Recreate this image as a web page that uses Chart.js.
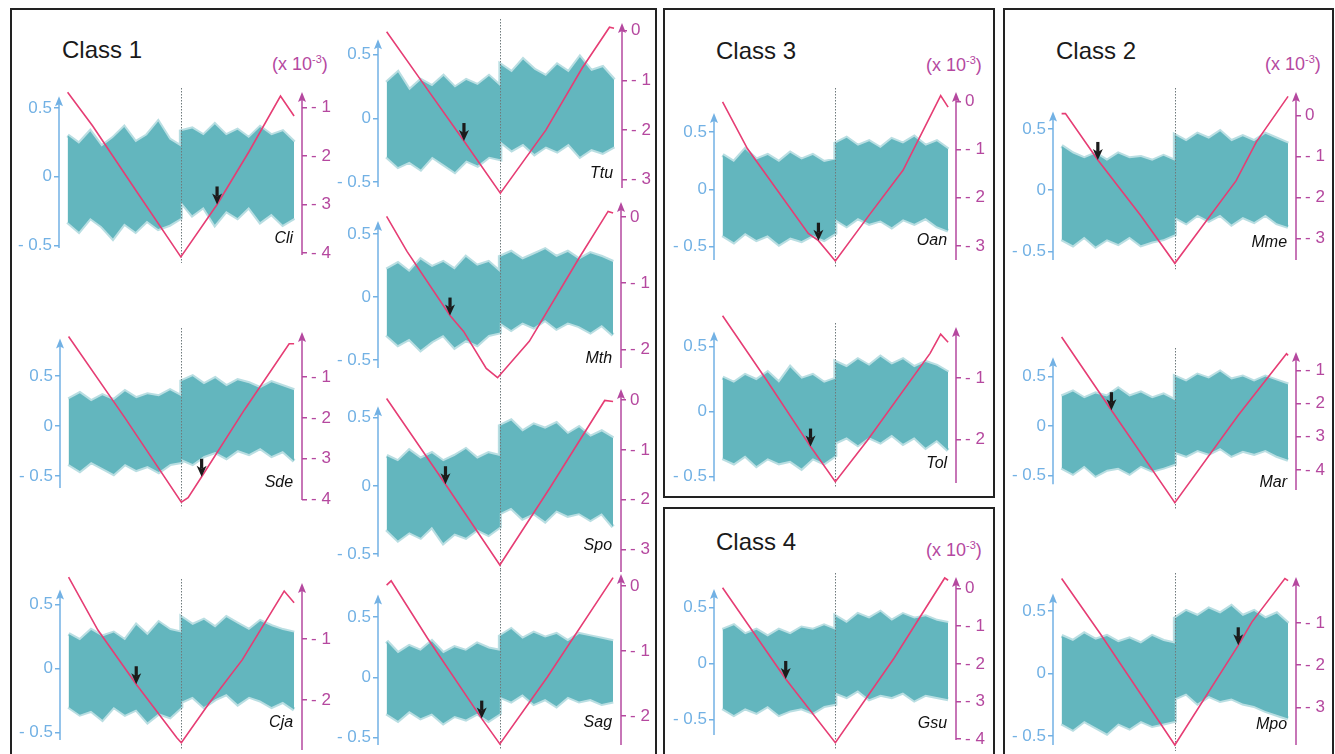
<!DOCTYPE html>
<html>
<head>
<meta charset="utf-8">
<script src="https://cdn.jsdelivr.net/npm/chart.js@4.4.1/dist/chart.umd.min.js"></script>
<style>
  body { margin: 0; background: #fff; width: 1335px; height: 754px; position: relative; overflow: hidden; font-family: "Liberation Sans", Arial, sans-serif; }
  .box { position: absolute; border: 2.5px solid #222; box-sizing: border-box; }
  .title { position: absolute; font-size: 24px; line-height: 24px; color: #1a1a1a; white-space: nowrap; }
  .unit { position: absolute; font-size: 18px; line-height: 18px; color: #b5489f; white-space: nowrap; }
  .unit sup { font-size: 11px; vertical-align: 7px; line-height: 0; }
  canvas { position: absolute; }
</style>
</head>
<body>
<div class="box" style="left:10px;top:8px;width:647px;height:760px"></div>
<div class="box" style="left:663px;top:8px;width:332px;height:490px"></div>
<div class="box" style="left:663px;top:507px;width:332px;height:260px"></div>
<div class="box" style="left:1003px;top:8px;width:331px;height:760px"></div>

<div class="title" style="left:62px;top:38px">Class 1</div>
<div class="title" style="left:716px;top:39px">Class 3</div>
<div class="title" style="left:716px;top:530px">Class 4</div>
<div class="title" style="left:1056px;top:39px">Class 2</div>

<div class="unit" style="left:272px;top:55px">(x 10<sup>-3</sup>)</div>
<div class="unit" style="left:926px;top:56px">(x 10<sup>-3</sup>)</div>
<div class="unit" style="left:926px;top:541px">(x 10<sup>-3</sup>)</div>
<div class="unit" style="left:1265px;top:55px">(x 10<sup>-3</sup>)</div>

<script>
// shared grid of the teal band (index along the sequence, jump at 50)
const bandX = [0, 5, 10, 15, 20, 25, 30, 35, 40, 45, 50, 50, 55, 60, 65, 70, 75, 80, 85, 90, 95, 100];
const leftTicks = [0.5, 0, -0.5];

// Class 1
const cliHi = [0.3, 0.24, 0.33, 0.22, 0.28, 0.36, 0.25, 0.3, 0.4, 0.27, 0.22, 0.33, 0.35, 0.3, 0.38, 0.3, 0.34, 0.28, 0.36, 0.3, 0.33, 0.25];
const cliLo = [-0.33, -0.4, -0.3, -0.36, -0.45, -0.34, -0.4, -0.32, -0.38, -0.35, -0.3, -0.18, -0.28, -0.22, -0.35, -0.25, -0.3, -0.22, -0.33, -0.27, -0.35, -0.3];
const cliPink = [[0, -0.69], [11, -1.38], [31, -2.77], [50, -4.08], [66, -3.0], [80, -1.92], [94, -0.77], [100, -1.18]];
const cliArrow = [66, -3.0];
const cliRight = [-1, -2, -3, -4];

const ttuHi = [0.28, 0.36, 0.22, 0.3, 0.25, 0.33, 0.24, 0.3, 0.26, 0.33, 0.25, 0.42, 0.36, 0.46, 0.38, 0.33, 0.42, 0.36, 0.48, 0.37, 0.4, 0.3];
const ttuLo = [-0.3, -0.38, -0.34, -0.4, -0.3, -0.36, -0.42, -0.33, -0.37, -0.3, -0.32, -0.18, -0.25, -0.2, -0.28, -0.22, -0.26, -0.2, -0.3, -0.24, -0.27, -0.22];
const ttuPink = [[0, -0.02], [17, -1.12], [34, -2.22], [50, -3.27], [70, -2.0], [86, -0.75], [98, 0.07], [100, 0.05]];
const ttuArrow = [34, -2.22];
const ttuRight = [0, -1, -2, -3];

const sdeHi = [0.27, 0.33, 0.25, 0.31, 0.26, 0.35, 0.28, 0.32, 0.3, 0.36, 0.3, 0.45, 0.5, 0.42, 0.48, 0.4, 0.46, 0.43, 0.38, 0.44, 0.4, 0.36];
const sdeLo = [-0.38, -0.45, -0.36, -0.42, -0.48, -0.38, -0.44, -0.4, -0.46, -0.38, -0.36, -0.33, -0.38, -0.3, -0.26, -0.32, -0.24, -0.28, -0.22, -0.3, -0.25, -0.35];
const sdePink = [[0, -0.01], [25, -2.0], [50, -4.06], [53, -3.95], [59, -3.44], [78, -1.8], [97.8, -0.19], [100, -0.19]];
const sdeArrow = [59, -3.44];
const sdeRight = [-1, -2, -3, -4];

const cjaHi = [0.27, 0.22, 0.3, 0.25, 0.28, 0.22, 0.34, 0.26, 0.36, 0.3, 0.28, 0.4, 0.34, 0.38, 0.32, 0.4, 0.35, 0.3, 0.37, 0.33, 0.3, 0.28];
const cjaLo = [-0.3, -0.36, -0.33, -0.4, -0.3, -0.36, -0.32, -0.42, -0.35, -0.38, -0.3, -0.26, -0.22, -0.3, -0.24, -0.2, -0.28, -0.22, -0.25, -0.3, -0.26, -0.32];
const cjaPink = [[0, 0.02], [13, -0.85], [30, -1.74], [48, -2.62], [50, -2.7], [62, -2.07], [77, -1.34], [95.6, -0.21], [100, -0.4]];
const cjaArrow = [30, -1.74];
const cjaRight = [-1, -2];

const mthHi = [0.22, 0.27, 0.2, 0.3, 0.24, 0.28, 0.22, 0.32, 0.25, 0.28, 0.2, 0.32, 0.36, 0.3, 0.34, 0.38, 0.32, 0.36, 0.3, 0.35, 0.32, 0.28];
const mthLo = [-0.3, -0.38, -0.33, -0.42, -0.35, -0.3, -0.4, -0.34, -0.38, -0.3, -0.28, -0.2, -0.26, -0.2, -0.24, -0.18, -0.25, -0.2, -0.23, -0.28, -0.22, -0.3];
const mthPink = [[0, 0.01], [9, -0.52], [28, -1.49], [34, -1.73], [44, -2.29], [49, -2.43], [63, -1.88], [85, -0.62], [97.8, 0.085], [100, 0.06]];
const mthArrow = [28, -1.49];
const mthRight = [0, -1, -2];

const spoHi = [0.22, 0.18, 0.26, 0.2, 0.24, 0.18, 0.22, 0.27, 0.2, 0.24, 0.22, 0.44, 0.48, 0.4, 0.45, 0.42, 0.46, 0.38, 0.43, 0.36, 0.4, 0.35];
const spoLo = [-0.32, -0.4, -0.34, -0.38, -0.3, -0.42, -0.35, -0.38, -0.32, -0.36, -0.3, -0.2, -0.16, -0.24, -0.2, -0.26, -0.18, -0.22, -0.2, -0.25, -0.2, -0.3];
const spoPink = [[0, 0.03], [26, -1.69], [50, -3.31], [72, -1.77], [96.3, -0.01], [100, -0.03]];
const spoArrow = [26, -1.69];
const spoRight = [0, -1, -2, -3];

const sagHi = [0.3, 0.2, 0.26, 0.22, 0.3, 0.2, 0.25, 0.22, 0.28, 0.24, 0.22, 0.34, 0.4, 0.32, 0.37, 0.33, 0.36, 0.3, 0.36, 0.34, 0.32, 0.3];
const sagLo = [-0.3, -0.36, -0.28, -0.34, -0.3, -0.38, -0.32, -0.35, -0.3, -0.36, -0.3, -0.16, -0.2, -0.14, -0.22, -0.18, -0.24, -0.16, -0.2, -0.18, -0.22, -0.2];
const sagPink = [[0, 0.015], [2, 0.08], [18, -0.8], [42, -2.04], [50, -2.43], [71, -1.4], [100, 0.13]];
const sagArrow = [42, -2.04];
const sagRight = [0, -1, -2];

// Class 3
const oanHi = [0.3, 0.24, 0.35, 0.26, 0.3, 0.24, 0.32, 0.26, 0.3, 0.24, 0.26, 0.4, 0.45, 0.38, 0.42, 0.36, 0.44, 0.4, 0.46, 0.38, 0.42, 0.35];
const oanLo = [-0.4, -0.46, -0.38, -0.44, -0.4, -0.48, -0.42, -0.45, -0.4, -0.44, -0.38, -0.26, -0.32, -0.25, -0.3, -0.27, -0.33, -0.26, -0.3, -0.25, -0.32, -0.36];
const oanPink = [[0, -0.01], [11, -0.98], [38, -2.74], [42.5, -2.89], [50, -3.31], [65, -2.36], [80, -1.43], [96.7, 0.12], [100, -0.12]];
const oanArrow = [42.5, -2.89];
const oanRight = [0, -1, -2, -3];

const tolHi = [0.26, 0.22, 0.28, 0.24, 0.3, 0.22, 0.34, 0.25, 0.28, 0.22, 0.25, 0.38, 0.34, 0.4, 0.35, 0.42, 0.36, 0.4, 0.34, 0.38, 0.35, 0.3];
const tolLo = [-0.36, -0.4, -0.34, -0.42, -0.36, -0.4, -0.38, -0.44, -0.36, -0.4, -0.34, -0.24, -0.2, -0.26, -0.2, -0.24, -0.18, -0.25, -0.2, -0.28, -0.22, -0.3];
const tolPink = [[0, 0.01], [20, -1.06], [39, -2.11], [50, -2.68], [64, -2.02], [92, -0.6], [96.7, -0.29], [100, -0.42]];
const tolArrow = [39, -2.11];
const tolRight = [-1, -2];

// Class 4
const gsuHi = [0.3, 0.34, 0.26, 0.3, 0.24, 0.3, 0.26, 0.32, 0.3, 0.34, 0.3, 0.42, 0.36, 0.44, 0.4, 0.46, 0.38, 0.44, 0.4, 0.42, 0.38, 0.36];
const gsuLo = [-0.4, -0.46, -0.4, -0.44, -0.38, -0.46, -0.42, -0.4, -0.44, -0.38, -0.36, -0.26, -0.3, -0.24, -0.32, -0.28, -0.3, -0.26, -0.33, -0.28, -0.3, -0.32];
const gsuPink = [[0, 0.02], [28, -2.4], [50, -4.09], [76, -1.85], [98.5, 0.28], [100, 0.22]];
const gsuArrow = [28, -2.4];
const gsuRight = [0, -1, -2, -3, -4];

// Class 2
const mmeHi = [0.36, 0.3, 0.26, 0.3, 0.24, 0.3, 0.26, 0.27, 0.24, 0.28, 0.24, 0.45, 0.4, 0.46, 0.42, 0.48, 0.4, 0.44, 0.4, 0.46, 0.42, 0.38];
const mmeLo = [-0.4, -0.45, -0.38, -0.46, -0.4, -0.44, -0.38, -0.45, -0.42, -0.4, -0.36, -0.22, -0.27, -0.2, -0.25, -0.2, -0.28, -0.22, -0.26, -0.2, -0.27, -0.3];
const mmePink = [[0, 0.04], [1.7, 0.04], [16, -1.09], [35, -2.45], [50, -3.61], [77, -1.6], [86, -0.65], [100, 0.46]];
const mmeArrow = [16, -1.09];
const mmeRight = [0, -1, -2, -3];

const marHi = [0.3, 0.35, 0.28, 0.33, 0.3, 0.38, 0.3, 0.34, 0.28, 0.32, 0.26, 0.5, 0.45, 0.52, 0.48, 0.55, 0.47, 0.5, 0.45, 0.5, 0.46, 0.42];
const marLo = [-0.42, -0.48, -0.4, -0.5, -0.44, -0.42, -0.48, -0.4, -0.45, -0.42, -0.38, -0.26, -0.3, -0.24, -0.28, -0.22, -0.3, -0.25, -0.28, -0.24, -0.3, -0.34];
const marPink = [[0, 0], [22, -2.2], [50, -4.98], [78, -2.35], [99.3, -0.5], [100, -0.55]];
const marArrow = [22, -2.2];
const marRight = [-1, -2, -3, -4];

const mpoHi = [0.3, 0.26, 0.32, 0.27, 0.3, 0.25, 0.28, 0.24, 0.3, 0.26, 0.24, 0.44, 0.5, 0.46, 0.52, 0.48, 0.54, 0.46, 0.5, 0.44, 0.48, 0.4];
const mpoLo = [-0.4, -0.45, -0.38, -0.43, -0.48, -0.4, -0.44, -0.38, -0.42, -0.4, -0.38, -0.2, -0.16, -0.24, -0.18, -0.22, -0.2, -0.24, -0.26, -0.3, -0.33, -0.36];
const mpoPink = [[0, 0.05], [17, -1.25], [50, -3.89], [78, -1.53], [84, -0.98], [98.6, 0.05], [100, 0]];
const mpoArrow = [78, -1.53];
const mpoRight = [-1, -2, -3];

// panel layout: box = chart area [left, top, right, bottom] in page pixels
const panels = [
  { name: 'Cli', hi: cliHi, lo: cliLo, pink: cliPink, arrow: cliArrow, rt: cliRight, box: [59, 92, 302, 255], yL: [-0.569, 0.615], yR: [-4.04, -0.685], axL: [-0.518, 0.584], labelY: -0.48 },
  { name: 'Ttu', hi: ttuHi, lo: ttuLo, pink: ttuPink, arrow: ttuArrow, rt: ttuRight, box: [378, 23, 622, 188], yL: [-0.545, 0.745], yR: [-3.165, 0.155], axL: [-0.537, 0.617], labelY: -0.47 },
  { name: 'Sde', hi: sdeHi, lo: sdeLo, pink: sdePink, arrow: sdeArrow, rt: sdeRight, box: [60, 332, 302, 500], yL: [-0.74, 0.943], yR: [-4.007, 0.098], axL: [-0.62, 0.877], labelY: -0.61 },
  { name: 'Cja', hi: cjaHi, lo: cjaLo, pink: cjaPink, arrow: cjaArrow, rt: cjaRight, box: [60, 583, 302, 750], yL: [-0.636, 0.667], yR: [-2.82, -0.077], axL: [-0.558, 0.617], labelY: -0.46 },
  { name: 'Mth', hi: mthHi, lo: mthLo, pink: mthPink, arrow: mthArrow, rt: mthRight, box: [378, 202, 621, 368], yL: [-0.562, 0.756], yR: [-2.283, 0.227], axL: [-0.562, 0.606], labelY: -0.525 },
  { name: 'Spo', hi: spoHi, lo: spoLo, pink: spoPink, arrow: spoArrow, rt: spoRight, box: [378, 389, 621, 572], yL: [-0.632, 0.711], yR: [-3.45, 0.22], axL: [-0.52, 0.585], labelY: -0.47 },
  { name: 'Sag', hi: sagHi, lo: sagLo, pink: sagPink, arrow: sagArrow, rt: sagRight, box: [378, 574, 621, 745], yL: [-0.561, 0.857], yR: [-2.446, 0.185], axL: [-0.56, 0.688], labelY: -0.41 },
  { name: 'Oan', hi: oanHi, lo: oanLo, pink: oanPink, arrow: oanArrow, rt: oanRight, box: [714, 92, 956, 260], yL: [-0.615, 0.849], yR: [-3.29, 0.193], axL: [-0.615, 0.665], labelY: -0.484 },
  { name: 'Tol', hi: tolHi, lo: tolLo, pink: tolPink, arrow: tolArrow, rt: tolRight, box: [714, 327, 956, 483], yL: [-0.551, 0.649], yR: [-2.7, -0.173], axL: [-0.538, 0.615], labelY: -0.435 },
  { name: 'Gsu', hi: gsuHi, lo: gsuLo, pink: gsuPink, arrow: gsuArrow, rt: gsuRight, box: [714, 577, 956, 740], yL: [-0.683, 0.771], yR: [-4.02, 0.306], axL: [-0.638, 0.664], labelY: -0.58 },
  { name: 'Mme', hi: mmeHi, lo: mmeLo, pink: mmePink, arrow: mmeArrow, rt: mmeRight, box: [1053, 92, 1296, 260], yL: [-0.57, 0.801], yR: [-3.53, 0.567], axL: [-0.57, 0.641], labelY: -0.467 },
  { name: 'Mar', hi: marHi, lo: marLo, pink: marPink, arrow: marArrow, rt: marRight, box: [1053, 352, 1296, 490], yL: [-0.645, 0.748], yR: [-4.6, -0.45], axL: [-0.586, 0.695], labelY: -0.61 },
  { name: 'Mpo', hi: mpoHi, lo: mpoLo, pink: mpoPink, arrow: mpoArrow, rt: mpoRight, box: [1053, 577, 1296, 745], yL: [-0.572, 0.771], yR: [-3.89, 0.087], axL: [-0.572, 0.639], labelY: -0.447 }
];

const BLUE = '#72b1e4';
const PURPLE = '#b5489f';
const TEAL = '#63b6be';
const TEAL_EDGE = 'rgba(99,182,190,0.45)';
const PINK = '#e63d74';
const FONT = '"Liberation Sans", Arial, sans-serif';
const PADX = 50, PADY = 30;

function tickText(v) {
  return v < 0 ? '- ' + Math.abs(v) : String(v);
}

function arrowUp(ctx, x, yTop, yBottom, color) {
  ctx.strokeStyle = color;
  ctx.fillStyle = color;
  ctx.lineWidth = 1.5;
  ctx.beginPath();
  ctx.moveTo(x, yBottom);
  ctx.lineTo(x, yTop + 6);
  ctx.stroke();
  ctx.beginPath();
  ctx.moveTo(x, yTop);
  ctx.lineTo(x - 4, yTop + 10);
  ctx.lineTo(x, yTop + 8);
  ctx.lineTo(x + 4, yTop + 10);
  ctx.closePath();
  ctx.fill();
}

function decoFor(p) {
  return {
    id: 'deco',
    afterDatasetDraw(chart, args) {
      if (args.index !== 0) return;
      // dotted divider at the middle of the sequence
      const { ctx, chartArea, scales } = chart;
      const x = Math.round(scales.x.getPixelForValue(50)) + 0.5;
      const low = Math.min(...p.pink.map(q => q[1]));
      const yEnd = scales.yR.getPixelForValue(low) + 6;
      ctx.save();
      ctx.strokeStyle = '#6f7a7c';
      ctx.lineWidth = 1;
      ctx.setLineDash([1.5, 1.5]);
      ctx.beginPath();
      ctx.moveTo(x, chartArea.top - 4);
      ctx.lineTo(x, yEnd);
      ctx.stroke();
      ctx.restore();
    },
    afterDatasetsDraw(chart) {
      const { ctx, chartArea, scales } = chart;
      ctx.save();
      // axes with arrow heads
      arrowUp(ctx, chartArea.left, scales.yL.getPixelForValue(p.axL[1]), scales.yL.getPixelForValue(p.axL[0]), BLUE);
      arrowUp(ctx, chartArea.right, chartArea.top, chartArea.bottom, PURPLE);
      // black marker arrow
      const ax = scales.x.getPixelForValue(p.arrow[0]);
      const ay = scales.yR.getPixelForValue(p.arrow[1]);
      ctx.fillStyle = '#1b1b1b';
      ctx.fillRect(ax - 1.6, ay - 18, 3.2, 10);
      ctx.beginPath();
      ctx.moveTo(ax, ay);
      ctx.lineTo(ax - 5, ay - 11);
      ctx.lineTo(ax, ay - 8);
      ctx.lineTo(ax + 5, ay - 11);
      ctx.closePath();
      ctx.fill();
      // species name
      ctx.fillStyle = '#111';
      ctx.font = 'italic 16px ' + FONT;
      ctx.textAlign = 'right';
      ctx.textBaseline = 'alphabetic';
      ctx.fillText(p.name, scales.x.getPixelForValue(100) - 1, scales.yL.getPixelForValue(p.labelY));
      ctx.restore();
    }
  };
}

panels.forEach(p => {
  const [l, t, r, b] = p.box;
  const cv = document.createElement('canvas');
  cv.width = r - l + 2 * PADX;
  cv.height = b - t + 2 * PADY;
  cv.style.left = (l - PADX) + 'px';
  cv.style.top = (t - PADY) + 'px';
  document.body.appendChild(cv);

  const band = vals => bandX.map((x, i) => ({ x: x, y: vals[i] }));
  const edge = { borderColor: TEAL_EDGE, borderWidth: 4, pointRadius: 0, clip: false };

  new Chart(cv.getContext('2d'), {
    type: 'line',
    data: {
      datasets: [
        Object.assign({ data: band(p.hi), yAxisID: 'yL', backgroundColor: TEAL, fill: '+1', order: 1 }, edge),
        Object.assign({ data: band(p.lo), yAxisID: 'yL', fill: false, order: 2 }, edge),
        { data: p.pink.map(q => ({ x: q[0], y: q[1] })), yAxisID: 'yR', borderColor: PINK, borderWidth: 1.6, fill: false, pointRadius: 0, order: 0, clip: false }
      ]
    },
    options: {
      responsive: false,
      animation: false,
      events: [],
      layout: { padding: { top: PADY, bottom: PADY, left: 0, right: 0 } },
      plugins: { legend: { display: false }, tooltip: { enabled: false } },
      scales: {
        x: { type: 'linear', display: false, min: -3.8, max: 103.5 },
        yL: {
          position: 'left', min: p.yL[0], max: p.yL[1],
          afterBuildTicks: s => { s.ticks = leftTicks.map(v => ({ value: v })); },
          afterFit: s => { s.width = PADX; },
          border: { display: false },
          grid: { drawOnChartArea: false, tickLength: 5, color: BLUE, lineWidth: 1.5 },
          ticks: { color: BLUE, padding: 2, font: { family: FONT, size: 17 }, callback: v => tickText(v) }
        },
        yR: {
          position: 'right', min: p.yR[0], max: p.yR[1],
          afterBuildTicks: s => { s.ticks = p.rt.map(v => ({ value: v })); },
          afterFit: s => { s.width = PADX; },
          border: { display: false },
          grid: { drawOnChartArea: false, tickLength: 5, color: PURPLE, lineWidth: 1.5 },
          ticks: { color: PURPLE, padding: 4, font: { family: FONT, size: 17 }, callback: v => tickText(v) }
        }
      }
    },
    plugins: [decoFor(p)]
  });
});
</script>
</body>
</html>
